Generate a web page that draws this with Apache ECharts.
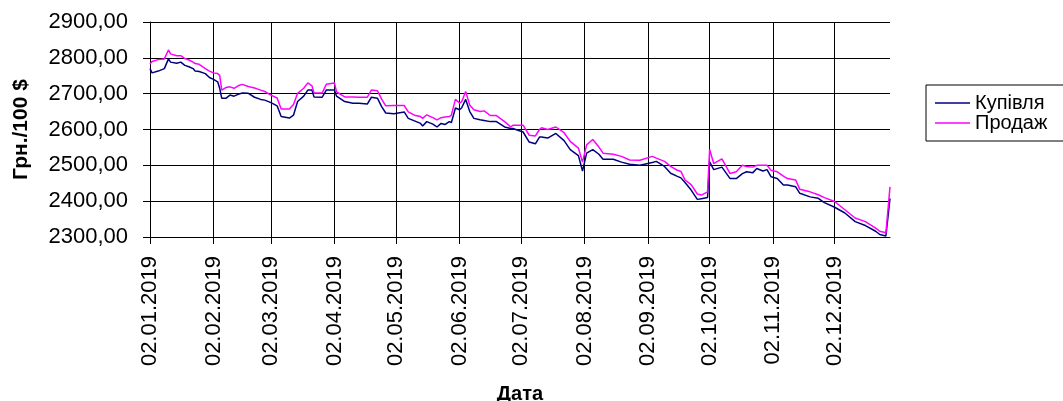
<!DOCTYPE html>
<html>
<head>
<meta charset="utf-8">
<script src="https://cdn.jsdelivr.net/npm/echarts@6/dist/echarts.min.js"></script>
<style>
html,body{margin:0;padding:0;background:#fff;}
#chart{width:1063px;height:401px;}
</style>
</head>
<body>
<div id="chart"></div>
<script>
const dates = ['2019-01-02','2019-01-03','2019-01-06','2019-01-09','2019-01-11','2019-01-12','2019-01-15','2019-01-17','2019-01-19','2019-01-21',
'2019-01-23','2019-01-24','2019-01-26','2019-01-29','2019-01-31','2019-02-02','2019-02-04','2019-02-05','2019-02-06','2019-02-08',
'2019-02-10','2019-02-12','2019-02-14','2019-02-16','2019-02-19','2019-02-22','2019-02-25','2019-02-27','2019-03-02','2019-03-05',
'2019-03-07','2019-03-11','2019-03-13','2019-03-15','2019-03-18','2019-03-20','2019-03-22','2019-03-23','2019-03-27','2019-03-29',
'2019-04-02','2019-04-03','2019-04-07','2019-04-11','2019-04-14','2019-04-18','2019-04-20','2019-04-23','2019-04-25','2019-04-27',
'2019-05-01','2019-05-06','2019-05-08','2019-05-11','2019-05-14','2019-05-15','2019-05-17','2019-05-20','2019-05-22','2019-05-24',
'2019-05-26','2019-05-28','2019-05-29','2019-05-31','2019-06-02','2019-06-03','2019-06-05','2019-06-07','2019-06-09','2019-06-12',
'2019-06-14','2019-06-17','2019-06-20','2019-06-24','2019-06-27','2019-06-28','2019-07-03','2019-07-06','2019-07-09','2019-07-11',
'2019-07-12','2019-07-15','2019-07-19','2019-07-23','2019-07-26','2019-07-30','2019-08-01','2019-08-03','2019-08-06','2019-08-09',
'2019-08-11','2019-08-16','2019-08-20','2019-08-24','2019-08-29','2019-09-04','2019-09-06','2019-09-10','2019-09-13','2019-09-16',
'2019-09-18','2019-09-20','2019-09-23','2019-09-26','2019-09-28','2019-10-01','2019-10-02','2019-10-04','2019-10-08','2019-10-12',
'2019-10-15','2019-10-18','2019-10-20','2019-10-23','2019-10-25','2019-10-28','2019-10-30','2019-11-01','2019-11-04','2019-11-07',
'2019-11-09','2019-11-13','2019-11-15','2019-11-20','2019-11-24','2019-11-27','2019-12-02','2019-12-07','2019-12-12','2019-12-17',
'2019-12-22','2019-12-24','2019-12-27','2019-12-29'];

const buy = [2770,2758,2763,2770,2797,2788,2785,2788,2779,2775,
2770,2763,2762,2756,2745,2740,2733,2715,2687,2687,
2696,2693,2698,2702,2701,2690,2684,2682,2675,2666,
2636,2632,2640,2678,2693,2710,2710,2691,2690,2710,
2710,2693,2678,2673,2673,2671,2690,2687,2664,2646,
2644,2649,2631,2624,2617,2610,2622,2615,2607,2617,
2614,2622,2619,2660,2655,2660,2684,2650,2631,2627,
2625,2622,2622,2607,2603,2603,2593,2565,2560,2579,
2579,2576,2589,2569,2544,2527,2484,2534,2544,2531,
2517,2517,2509,2503,2500,2508,2511,2497,2478,2470,
2465,2452,2431,2405,2407,2410,2510,2488,2495,2463,
2463,2477,2482,2479,2491,2484,2488,2468,2463,2445,
2445,2440,2422,2412,2408,2396,2383,2367,2343,2332,
2316,2307,2303,2408];

const sell = [2783,2790,2795,2797,2822,2811,2806,2806,2798,2794,
2788,2784,2782,2770,2763,2758,2756,2751,2710,2717,
2719,2715,2722,2726,2720,2716,2710,2706,2696,2688,
2657,2657,2670,2701,2715,2730,2722,2702,2702,2726,
2730,2705,2691,2691,2690,2690,2710,2708,2685,2666,
2667,2667,2649,2640,2636,2631,2641,2633,2627,2633,
2635,2636,2640,2684,2674,2677,2706,2668,2655,2650,
2652,2639,2639,2622,2607,2612,2612,2584,2582,2600,
2605,2600,2607,2591,2567,2548,2509,2557,2572,2551,
2534,2531,2525,2515,2514,2525,2520,2511,2497,2487,
2483,2459,2446,2420,2417,2426,2544,2505,2518,2477,
2482,2500,2497,2495,2500,2500,2500,2486,2482,2470,
2463,2459,2433,2426,2418,2410,2399,2376,2353,2343,
2325,2316,2312,2440];

const tickDates = ['2019-01-02','2019-02-02','2019-03-02','2019-04-02','2019-05-02','2019-06-02',
'2019-07-02','2019-08-02','2019-09-02','2019-10-02','2019-11-02','2019-12-02'];

const seriesNames = ['Купівля', 'Продаж'];
const yTicks = {min: 2300, max: 2900, step: 100};

function toTs(s) {
  const p = s.split('-').map(Number);
  return Date.UTC(p[0], p[1] - 1, p[2]);
}
function pad(n) { return (n < 10 ? '0' : '') + n; }
function fmtDate(v) {
  const d = new Date(v);
  return pad(d.getUTCDate()) + '.' + pad(d.getUTCMonth() + 1) + '.' + d.getUTCFullYear();
}

const FONT = "'Liberation Sans', Arial, sans-serif";
const tickTs = tickDates.map(toTs);

const chart = echarts.init(document.getElementById('chart'), null, {renderer: 'canvas'});
chart.setOption({
  animation: false,
  backgroundColor: '#ffffff',
  textStyle: {fontFamily: FONT},
  grid: {left: 150, right: 173, top: 22, bottom: 164, containLabel: false, outerBoundsMode: 'none'},
  legend: {
    orient: 'vertical',
    left: 926, top: 85,
    padding: [8, 60, 8, 9],
    borderColor: '#000', borderWidth: 1,
    icon: 'rect',
    itemWidth: 35, itemHeight: 1.5, itemGap: 0,
    textStyle: {fontSize: 20, color: '#000', fontFamily: FONT, lineHeight: 20},
    data: seriesNames
  },
  xAxis: {
    type: 'value',
    min: toTs(dates[0]),
    max: toTs(dates[dates.length - 1]),
    name: 'Дата',
    nameLocation: 'middle',
    nameGap: 147,
    nameTextStyle: {fontSize: 20, fontWeight: 'bold', color: '#000', fontFamily: FONT},
    axisLine: {show: true, onZero: false, lineStyle: {color: '#000', width: 1}},
    axisTick: {show: true, customValues: tickTs, length: 7, inside: false, lineStyle: {color: '#000'}},
    axisLabel: {
      customValues: tickTs,
      rotate: 90, margin: 19,
      fontSize: 22, color: '#000', fontFamily: FONT,
      formatter: function (v) { return fmtDate(v); }
    },
    splitLine: {show: true, lineStyle: {color: '#000', width: 1}}
  },
  yAxis: {
    type: 'value',
    min: yTicks.min, max: yTicks.max, interval: yTicks.step,
    name: 'Грн./100 $',
    nameLocation: 'middle',
    nameGap: 118,
    nameTextStyle: {fontSize: 21, fontWeight: 'bold', color: '#000', fontFamily: FONT},
    axisLine: {show: true, lineStyle: {color: '#000', width: 1}},
    axisTick: {show: true, length: 7, lineStyle: {color: '#000'}},
    axisLabel: {
      margin: 22, fontSize: 22, color: '#000', fontFamily: FONT,
      formatter: function (v) { return v.toFixed(2).replace('.', ','); }
    },
    splitLine: {show: true, lineStyle: {color: '#000', width: 1}}
  },
  series: [
    {
      name: seriesNames[0], type: 'line', symbol: 'none',
      lineStyle: {color: '#000080', width: 1.5},
      itemStyle: {color: '#000080'},
      data: dates.map((d, i) => [toTs(d), buy[i]])
    },
    {
      name: seriesNames[1], type: 'line', symbol: 'none',
      lineStyle: {color: '#ff00ff', width: 1.5},
      itemStyle: {color: '#ff00ff'},
      data: dates.map((d, i) => [toTs(d), sell[i]])
    }
  ]
});
</script>
</body>
</html>
